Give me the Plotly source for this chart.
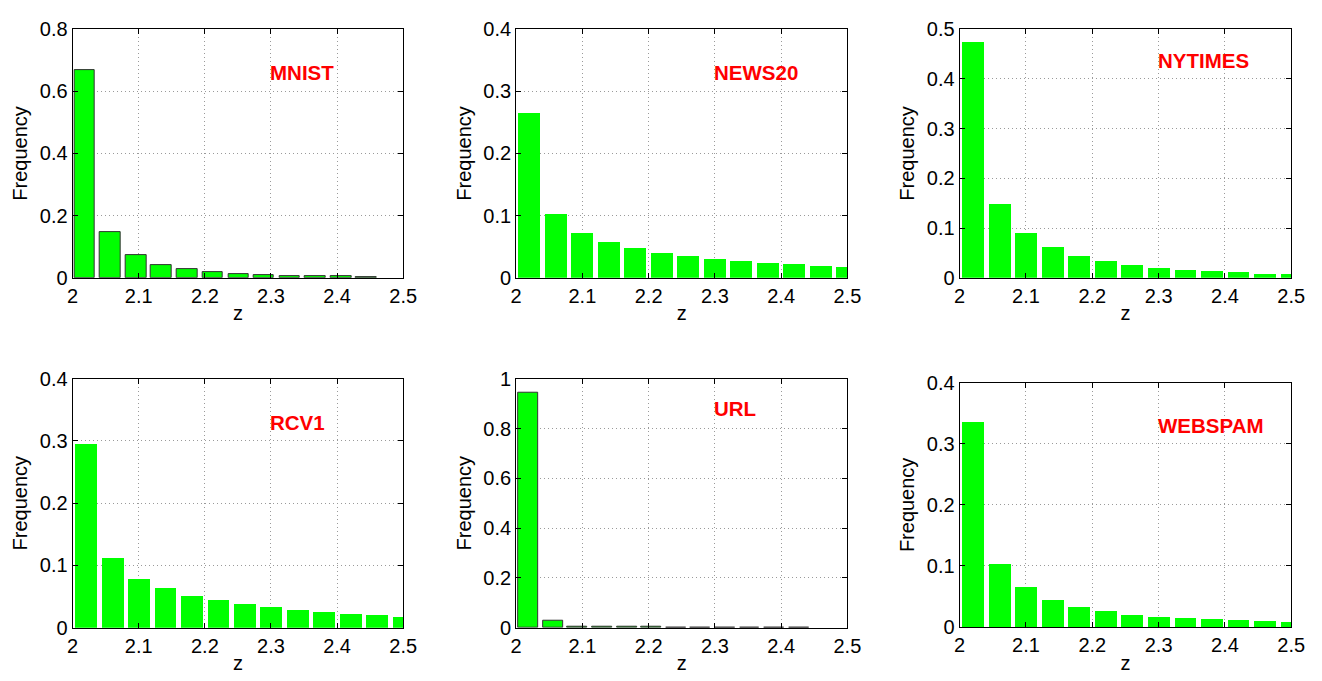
import plotly.graph_objects as go

# ---- data ----
names = ["MNIST", "NEWS20", "NYTIMES", "RCV1", "URL", "WEBSPAM"]

z_mnist = [2.018, 2.057, 2.096, 2.134, 2.173, 2.212, 2.251, 2.289, 2.328, 2.367, 2.406, 2.444]
f_mnist = [0.668, 0.1475, 0.0725, 0.0415, 0.0265, 0.0176, 0.0114, 0.0090, 0.0070, 0.0052, 0.0040, 0.0030]

z_news20 = [2.02, 2.06, 2.10, 2.14, 2.18, 2.22, 2.26, 2.30, 2.34, 2.38, 2.42, 2.46, 2.50]
f_news20 = [0.2656, 0.1022, 0.0726, 0.0571, 0.0472, 0.0405, 0.0348, 0.0301, 0.0270, 0.0244, 0.0213, 0.0192, 0.0176]

z_nytimes = [2.02, 2.06, 2.10, 2.14, 2.18, 2.22, 2.26, 2.30, 2.34, 2.38, 2.42, 2.46, 2.50]
f_nytimes = [0.4747, 0.1485, 0.0901, 0.0610, 0.0434, 0.0331, 0.0246, 0.0195, 0.0156, 0.0130, 0.0110, 0.0084, 0.0071]

z_rcv1 = [2.02, 2.06, 2.10, 2.14, 2.18, 2.22, 2.26, 2.30, 2.34, 2.38, 2.42, 2.46, 2.50]
f_rcv1 = [0.2948, 0.1119, 0.0782, 0.0648, 0.0513, 0.0446, 0.0378, 0.0332, 0.0290, 0.0254, 0.0223, 0.0202, 0.0181]

z_url = [2.0185, 2.0556, 2.0927, 2.1298, 2.1669, 2.2040, 2.2411, 2.2782, 2.3153, 2.3524, 2.3895, 2.4266]
f_url = [0.944, 0.030, 0.005, 0.003, 0.002, 0.002, 0.0015, 0.0015, 0.001, 0.001, 0.001, 0.0005]

z_webspam = [2.02, 2.06, 2.10, 2.14, 2.18, 2.22, 2.26, 2.30, 2.34, 2.38, 2.42, 2.46, 2.50]
f_webspam = [0.3356, 0.1045, 0.0660, 0.0454, 0.0343, 0.0264, 0.0211, 0.0179, 0.0153, 0.0137, 0.0121, 0.0106, 0.0090]

x_ticks = [2.0, 2.1, 2.2, 2.3, 2.4, 2.5]
x_ticktext = ["2", "2.1", "2.2", "2.3", "2.4", "2.5"]
y_ticks = {
    "MNIST": [0, 0.2, 0.4, 0.6, 0.8],
    "NEWS20": [0, 0.1, 0.2, 0.3, 0.4],
    "NYTIMES": [0, 0.1, 0.2, 0.3, 0.4, 0.5],
    "RCV1": [0, 0.1, 0.2, 0.3, 0.4],
    "URL": [0, 0.2, 0.4, 0.6, 0.8, 1.0],
    "WEBSPAM": [0, 0.1, 0.2, 0.3, 0.4],
}

series = {
    "MNIST": (z_mnist, f_mnist),
    "NEWS20": (z_news20, f_news20),
    "NYTIMES": (z_nytimes, f_nytimes),
    "RCV1": (z_rcv1, f_rcv1),
    "URL": (z_url, f_url),
    "WEBSPAM": (z_webspam, f_webspam),
}

# ---- layout / style ----
W, H = 1322, 681
px_boxes = {  # left, right, top, bottom in pixels
    "MNIST": (67.7, 403.3, 18.7, 275.7),
    "NEWS20": (518.0, 854.3, 18.7, 275.7),
    "NYTIMES": (968.3, 1305.0, 18.7, 275.7),
    "RCV1": (67.7, 403.3, 380.0, 637.3),
    "URL": (518.0, 854.3, 380.0, 637.3),
    "WEBSPAM": (968.3, 1305.0, 384.0, 636.7),
}
bar_width = {"MNIST": 0.031, "NEWS20": 0.033, "NYTIMES": 0.033, "RCV1": 0.033, "URL": 0.030, "WEBSPAM": 0.033}
edged = {"MNIST", "URL"}
label_y = {"MNIST": 0.64, "NEWS20": 0.32, "NYTIMES": 0.425, "RCV1": 0.32, "URL": 0.855, "WEBSPAM": 0.32}

FONT = "Liberation Sans, Arial, Helvetica, sans-serif"
GREEN = "#00FF00"

fig = go.Figure()
annotations = []
for i, name in enumerate(names):
    idx = "" if i == 0 else str(i + 1)
    xa, ya = "x" + idx, "y" + idx
    z, f = series[name]
    fig.add_trace(go.Bar(
        x=z, y=f, width=bar_width[name],
        marker=dict(color=GREEN,
                    line=dict(color="#333333" if name in edged else GREEN,
                              width=1 if name in edged else 0)),
        xaxis=xa, yaxis=ya, showlegend=False, hoverinfo="x+y",
    ))
    l, r, t, b = px_boxes[name]
    yt = y_ticks[name]
    axis_common = dict(
        showline=True, linecolor="black", linewidth=1, mirror="ticks",
        ticks="inside", ticklen=5, tickcolor="black",
        showgrid=True, gridcolor="#9a9a9a", griddash="1px,3px", gridwidth=1,
        zeroline=False,
        tickfont=dict(family=FONT, size=20, color="black"),
    )
    fig.layout["xaxis" + idx] = dict(
        domain=[l / W, r / W], anchor=ya, range=[2.0, 2.5],
        tickvals=x_ticks, ticktext=x_ticktext,
        title=dict(text="z", font=dict(family=FONT, size=20, color="black"), standoff=0),
        **axis_common,
    )
    fig.layout["yaxis" + idx] = dict(
        domain=[1 - b / H, 1 - t / H], anchor=xa, range=[0, yt[-1]],
        tickvals=yt, ticktext=[("%g" % v) for v in yt],
        title=dict(text="Frequency", font=dict(family=FONT, size=20, color="black"), standoff=6),
        **axis_common,
    )
    annotations.append(dict(
        x=2.3, y=label_y[name], xref=xa, yref=ya, text="<b>%s</b>" % name,
        showarrow=False, xanchor="left", yanchor="middle", xshift=-3, yshift=6,
        font=dict(family=FONT, size=20.5, color="#FF0000"),
    ))

fig.update_layout(
    width=W, height=H, margin=dict(l=0, r=0, t=0, b=0),
    paper_bgcolor="white", plot_bgcolor="white",
    bargap=0, annotations=annotations,
)

fig.write_html("out.html", config={"displayModeBar": False},
               post_script="document.body.style.margin='0';document.body.style.overflow='hidden';")
